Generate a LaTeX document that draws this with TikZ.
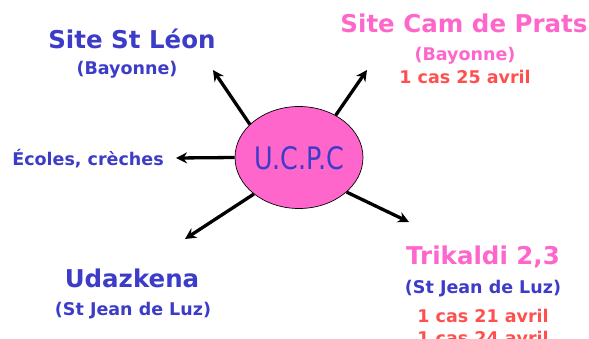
\documentclass[tikz,border=0pt]{standalone}
\usepackage{fontspec}
\setmainfont{DejaVu Sans}
\usetikzlibrary{shapes.geometric,arrows.meta}
\definecolor{cblue}{RGB}{60,60,200}
\definecolor{cpink}{RGB}{255,102,204}
\definecolor{cred}{RGB}{255,80,80}
\begin{document}
\begin{tikzpicture}[x=1pt,y=-1pt,
  big/.style={font=\bfseries\fontsize{24.5}{28}\selectfont,anchor=base,inner sep=0pt},
  small/.style={font=\bfseries\fontsize{17.5}{20}\selectfont,anchor=base,inner sep=0pt},
  arr/.style={line width=3.3pt,-{Stealth[length=11pt,width=11pt]}}]
\useasboundingbox (0,0) rectangle (589,338);
\node[ellipse,draw=black,line width=0.7pt,fill=cpink,minimum width=128pt,minimum height=102pt,inner sep=0pt] (u) at (299,157.5) {};
\node[text=cblue,font=\fontsize{31}{34}\selectfont,inner sep=0pt,xscale=0.82] (ut) at (299,158) {U.C.P.C};
% top left
\node[big,text=cblue] (a1) at (132,48) {Site St Léon};
\node[small,text=cblue] (a2) at (127,74) {(Bayonne)};
% top right
\node[big,text=cpink] (b1) at (464,32) {Site Cam de Prats};
\node[small,text=cpink] (b2) at (465,60) {(Bayonne)};
\node[small,text=cred] (b3) at (465,83) {1 cas 25 avril};
% left
\node[small,text=cblue] (c1) at (88,165) {Écoles, crèches};
% bottom left
\node[big,text=cblue] (d1) at (132,287) {Udazkena};
\node[small,text=cblue] (d2) at (133,315) {(St Jean de Luz)};
% bottom right
\node[big,text=cpink] (e1) at (483,264) {Trikaldi 2,3};
\node[small,text=cblue] (e2) at (483,293) {(St Jean de Luz)};
\node[small,text=cred] (e3) at (483,322) {1 cas 21 avril};
\node[small,text=cred] (e4) at (483,344) {1 cas 24 avril};
% arrow tips
\coordinate (t1) at (213,70);
\coordinate (t2) at (367,70);
\coordinate (t3) at (176,158);
\coordinate (t4) at (185,239);
\coordinate (t5) at (409,222);
\draw[arr] (u.146) -- (t1);
\draw[arr] (u.49) -- (t2);
\draw[arr] (u.180) -- (t3);
\draw[arr] (u.219) -- (t4);
\draw[arr] (u.324) -- (t5);
\end{tikzpicture}
\end{document}
